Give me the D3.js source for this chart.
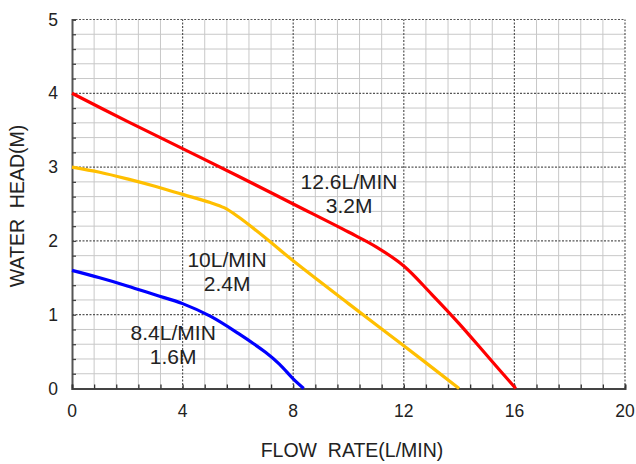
<!DOCTYPE html>
<html>
<head>
<meta charset="utf-8">
<script src="https://cdn.jsdelivr.net/npm/d3@7"></script>
<style>
  body { margin: 0; background: #fff; }
  text { font-family: "Liberation Sans", Arial, sans-serif; fill: #222; }
</style>
</head>
<body>
<svg id="chart"></svg>
<script>
const xTicks = [0, 4, 8, 12, 16, 20];
const yTicks = [0, 1, 2, 3, 4, 5];

const redFlow = [0, 2, 4, 6, 8, 10, 11, 12, 13, 14, 15, 16.05];
const redHead = [4, 3.62, 3.25, 2.88, 2.5, 2.12, 1.92, 1.66, 1.28, 0.88, 0.45, 0];

const yellowFlow = [0, 1, 2, 3, 4, 5, 5.5, 6, 7, 8, 10, 12, 14];
const yellowHead = [3, 2.93, 2.84, 2.74, 2.63, 2.52, 2.45, 2.33, 2.04, 1.73, 1.15, 0.58, 0];

const blueFlow = [0, 1, 2, 3, 4, 5, 6, 7, 7.5, 8, 8.38];
const blueHead = [1.6, 1.5, 1.39, 1.27, 1.15, 0.98, 0.75, 0.49, 0.33, 0.13, 0];

const curveLabels = [
  { lines: ["12.6L/MIN", "3.2M"], x: 10.02, y: 2.7 },
  { lines: ["10L/MIN", "2.4M"], x: 5.61, y: 1.65 },
  { lines: ["8.4L/MIN", "1.6M"], x: 3.66, y: 0.66 }
];

const width = 636, height = 464;
const margin = { top: 19.5, right: 11, bottom: 75.5, left: 72 };

const svg = d3.select("#chart").attr("width", width).attr("height", height);

const x = d3.scaleLinear().domain([0, 20]).range([margin.left, width - margin.right]);
const y = d3.scaleLinear().domain([0, 5]).range([height - margin.bottom, margin.top]);

// minor grid
const minorX = d3.range(0.8, 20, 0.8).filter((d) => Math.abs(d / 4 - Math.round(d / 4)) > 0.01);
const minorY = d3.range(0.2, 5, 0.2).filter((d) => Math.abs(d - Math.round(d)) > 0.01);

svg.append("g")
  .selectAll("line")
  .data(minorX)
  .join("line")
  .attr("x1", (d) => x(d)).attr("x2", (d) => x(d))
  .attr("y1", y(0)).attr("y2", y(5))
  .attr("stroke", "#c8c8c8").attr("stroke-width", 1);

svg.append("g")
  .selectAll("line")
  .data(minorY)
  .join("line")
  .attr("y1", (d) => y(d)).attr("y2", (d) => y(d))
  .attr("x1", x(0)).attr("x2", x(20))
  .attr("stroke", "#c8c8c8").attr("stroke-width", 1);

// major dashed grid
svg.append("g")
  .selectAll("line")
  .data(xTicks.slice(1))
  .join("line")
  .attr("x1", (d) => x(d)).attr("x2", (d) => x(d))
  .attr("y1", y(0)).attr("y2", y(5))
  .attr("stroke", "#555").attr("stroke-width", 1.2)
  .attr("stroke-dasharray", "2,1.5");

svg.append("g")
  .selectAll("line")
  .data(yTicks.slice(1))
  .join("line")
  .attr("y1", (d) => y(d)).attr("y2", (d) => y(d))
  .attr("x1", x(0)).attr("x2", x(20))
  .attr("stroke", "#555").attr("stroke-width", 1.2)
  .attr("stroke-dasharray", "2,1.5");

// axes
svg.append("g")
  .attr("transform", `translate(${x(0)},0)`)
  .call(d3.axisRight(y).tickValues(d3.range(0, 5.01, 0.2)).tickSize(4).tickFormat(""))
  .call((g) => g.select(".domain").attr("stroke", "#555").attr("stroke-width", 2))
  .call((g) => g.selectAll(".tick line").attr("stroke", "#444").attr("stroke-width", 1.3));

svg.append("g")
  .attr("transform", `translate(0,${y(0)})`)
  .call(d3.axisTop(x).tickValues(d3.range(0, 20.01, 0.8)).tickSize(4).tickFormat(""))
  .call((g) => g.select(".domain").attr("stroke", "#444").attr("stroke-width", 2))
  .call((g) => g.selectAll(".tick line").attr("stroke", "#333").attr("stroke-width", 1.3));

// tick labels
svg.append("g")
  .selectAll("text")
  .data(yTicks)
  .join("text")
  .attr("x", x(0) - 14)
  .attr("y", (d) => y(d) + 6)
  .attr("text-anchor", "end")
  .attr("font-size", 17.5)
  .text((d) => d);

svg.append("g")
  .selectAll("text")
  .data(xTicks)
  .join("text")
  .attr("x", (d) => x(d))
  .attr("y", y(0) + 28)
  .attr("text-anchor", "middle")
  .attr("font-size", 17.5)
  .text((d) => d);

// axis titles
svg.append("text")
  .attr("x", 352)
  .attr("y", 457)
  .attr("text-anchor", "middle")
  .attr("font-size", 19.5)
  .style("white-space", "pre")
  .text("FLOW  RATE(L/MIN)");

svg.append("text")
  .attr("transform", `translate(23.5,206) rotate(-90)`)
  .attr("text-anchor", "middle")
  .attr("font-size", 19.5)
  .style("white-space", "pre")
  .text("WATER  HEAD(M)");

// curves
const line = d3.line()
  .x((d) => x(d[0]))
  .y((d) => y(d[1]))
  .curve(d3.curveCatmullRom.alpha(0.5));

const series = [
  { flow: redFlow, head: redHead, color: "#ff0000" },
  { flow: yellowFlow, head: yellowHead, color: "#ffbf00" },
  { flow: blueFlow, head: blueHead, color: "#0000ff" }
];

svg.append("g")
  .selectAll("path")
  .data(series)
  .join("path")
  .attr("d", (s) => line(s.flow.map((f, i) => [f, s.head[i]])))
  .attr("fill", "none")
  .attr("stroke", (s) => s.color)
  .attr("stroke-width", 3.2);

// curve annotations
curveLabels.forEach((lab) => {
  svg.append("text")
    .attr("x", x(lab.x))
    .attr("y", y(lab.y))
    .attr("text-anchor", "middle")
    .attr("font-size", 21)
    .selectAll("tspan")
    .data(lab.lines)
    .join("tspan")
    .attr("x", x(lab.x))
    .attr("dy", (d, i) => (i === 0 ? 0 : 24))
    .text((d) => d);
});
</script>
</body>
</html>
